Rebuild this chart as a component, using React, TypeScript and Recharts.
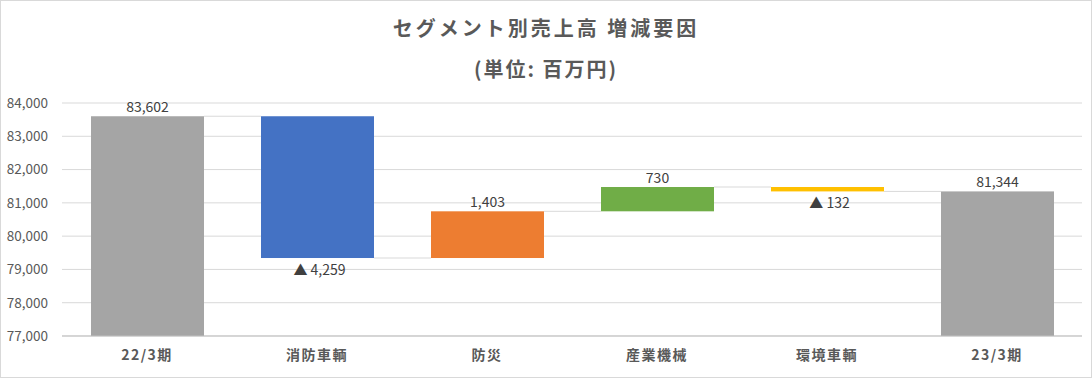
import { BarChart, Bar, XAxis, YAxis, CartesianGrid, LabelList } from "recharts";

const startName = "22/3期";
const endName = "23/3期";
const startTotal = 83602;
const endTotal = 81344;
const segmentNames = ["消防車輌", "防災", "産業機械", "環境車輌"];
const segmentDeltas = [-4259, 1403, 730, -132];
const segmentColors = ["#4472c4", "#ed7d31", "#70ad47", "#ffc000"];
const totalColor = "#a5a5a5";
const yTicks = [77000, 78000, 79000, 80000, 81000, 82000, 83000, 84000];

const FONT = "'Noto Sans CJK JP', 'Noto Sans', sans-serif";
const TEXT = "#595959";

const W = 1092;
const H = 378;
const MARGIN = { top: 103, right: 10, bottom: 12, left: 0 };
const Y_AXIS_W = 62;

type Row = {
  name: string;
  range: [number, number];
  delta: number | null;
  end: number;
  color: string;
};

// build waterfall rows: totals go from 0, segments float between running totals
const rows: Row[] = [];
rows.push({ name: startName, range: [0, startTotal], delta: null, end: startTotal, color: totalColor });
let running = startTotal;
segmentNames.forEach((name, i) => {
  const next = running + segmentDeltas[i];
  rows.push({
    name,
    range: [Math.min(running, next), Math.max(running, next)],
    delta: segmentDeltas[i],
    end: next,
    color: segmentColors[i],
  });
  running = next;
});
rows.push({ name: endName, range: [0, endTotal], delta: null, end: endTotal, color: totalColor });

const fmt = (v: number) => v.toLocaleString("en-US");

const step = (W - MARGIN.left - MARGIN.right - Y_AXIS_W) / rows.length;

const WaterfallShape = (props: any) => {
  const { x, y, width, height, index } = props;
  const row = rows[index];
  const top = y;
  const bottom = y + height;
  // where the running total ends for this bar
  const endY = row.delta !== null && row.delta < 0 ? bottom : top;
  const gap = step - width;
  return (
    <g>
      <rect x={x} y={top} width={width} height={Math.max(height, 1)} fill={row.color} />
      {index < rows.length - 1 && (
        <line x1={x + width} x2={x + width + gap} y1={endY} y2={endY} stroke="#d9d9d9" strokeWidth={1} />
      )}
    </g>
  );
};

const renderLabel = (props: any) => {
  const { x, y, width, height, index } = props;
  const row = rows[index];
  const cx = x + width / 2;
  if (row.delta !== null && row.delta < 0) {
    return (
      <text x={cx + 2} y={y + height + 13} textAnchor="middle" dominantBaseline="middle" fontSize={14} fill="#404040" fontFamily={FONT}>
        {"▲ " + fmt(Math.abs(row.delta))}
      </text>
    );
  }
  const v = row.delta !== null ? row.delta : row.end;
  return (
    <text x={cx} y={y - 8} textAnchor="middle" dominantBaseline="middle" fontSize={14} fill="#404040" fontFamily={FONT}>
      {fmt(v)}
    </text>
  );
};

const titleStyle = {
  position: "absolute" as const,
  left: 0,
  width: 1090,
  textAlign: "center" as const,
  fontSize: 20,
  fontWeight: 700,
  color: TEXT,
  letterSpacing: 3,
};

export default function App() {
  return (
    <div
      style={{
        position: "absolute",
        left: 0,
        top: 0,
        width: W,
        height: H,
        border: "1px solid #d9d9d9",
        boxSizing: "border-box",
        background: "#fff",
        fontFamily: FONT,
      }}
    >
      <div style={{ ...titleStyle, top: 12 }}>セグメント別売上高 増減要因</div>
      <div style={{ ...titleStyle, top: 53, letterSpacing: 2 }}>(単位: 百万円)</div>
      <div style={{ position: "absolute", left: -1, top: -1 }}>
        <BarChart width={W} height={H} data={rows} margin={MARGIN}>
          <CartesianGrid vertical={false} stroke="#d9d9d9" />
          <XAxis
            dataKey="name"
            tickLine={false}
            axisLine={{ stroke: "#bfbfbf" }}
            height={30}
            tickMargin={8}
            tick={{ fontSize: 14, fontWeight: 700, fill: TEXT, fontFamily: FONT, letterSpacing: 1.5 }}
          />
          <YAxis
            width={Y_AXIS_W}
            domain={[yTicks[0], yTicks[yTicks.length - 1]]}
            ticks={yTicks}
            allowDataOverflow
            axisLine={false}
            tickLine={false}
            tickMargin={8}
            tickFormatter={fmt}
            tick={{ fontSize: 13.5, fill: TEXT, fontFamily: FONT }}
          />
          <Bar dataKey="range" shape={WaterfallShape} barSize={113} isAnimationActive={false}>
            <LabelList dataKey="end" content={renderLabel} />
          </Bar>
        </BarChart>
      </div>
    </div>
  );
}
